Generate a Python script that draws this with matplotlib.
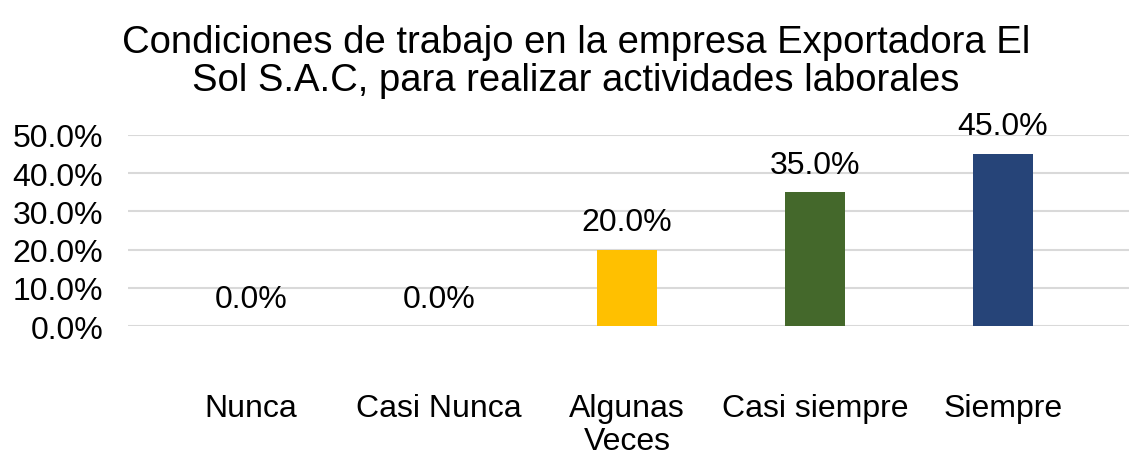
import matplotlib.pyplot as plt

categories = ["Nunca", "Casi Nunca", "Algunas\nVeces", "Casi siempre", "Siempre"]
values = [0.0, 0.0, 20.0, 35.0, 45.0]
colors = ["#4472C4", "#ED7D31", "#FFC000", "#44682B", "#264478"]
yticks = [0, 10, 20, 30, 40, 50]

plt.rcParams['font.family'] = ['Liberation Sans', 'DejaVu Sans']

fig = plt.figure(figsize=(11.29, 4.60), dpi=100)
ax = fig.add_axes([0.1134, 0.2885, 0.8866, 0.4165])

x = list(range(len(categories)))
bars = ax.bar(x, values, width=0.32, color=colors, zorder=3)

for xi, v in zip(x, values):
    ax.annotate(f"{v:.1f}%", (xi, v), xytext=(0, 9), textcoords='offset points',
                ha='center', va='bottom', fontsize=23, color='black')

ax.set_xlim(-0.654, 4.67)
ax.set_ylim(0, 50)
ax.set_yticks(yticks)
ax.set_yticklabels([f"{t:.1f}%" for t in yticks], fontsize=23)
ax.set_xticks(x)
ax.set_xticklabels(categories, fontsize=23, linespacing=1.15)
ax.tick_params(axis='y', length=0, pad=18)
ax.tick_params(axis='x', length=0, pad=48)
ax.grid(axis='y', color='#d9d9d9', linewidth=1.5, zorder=0)
for s in ax.spines.values():
    s.set_visible(False)

fig.text(0.51, 0.865, "Condiciones de trabajo en la empresa Exportadora El\nSol S.A.C, para realizar actividades laborales",
         ha='center', va='center', fontsize=27.5, linespacing=1.05)

fig.savefig("out.png", dpi=100)
